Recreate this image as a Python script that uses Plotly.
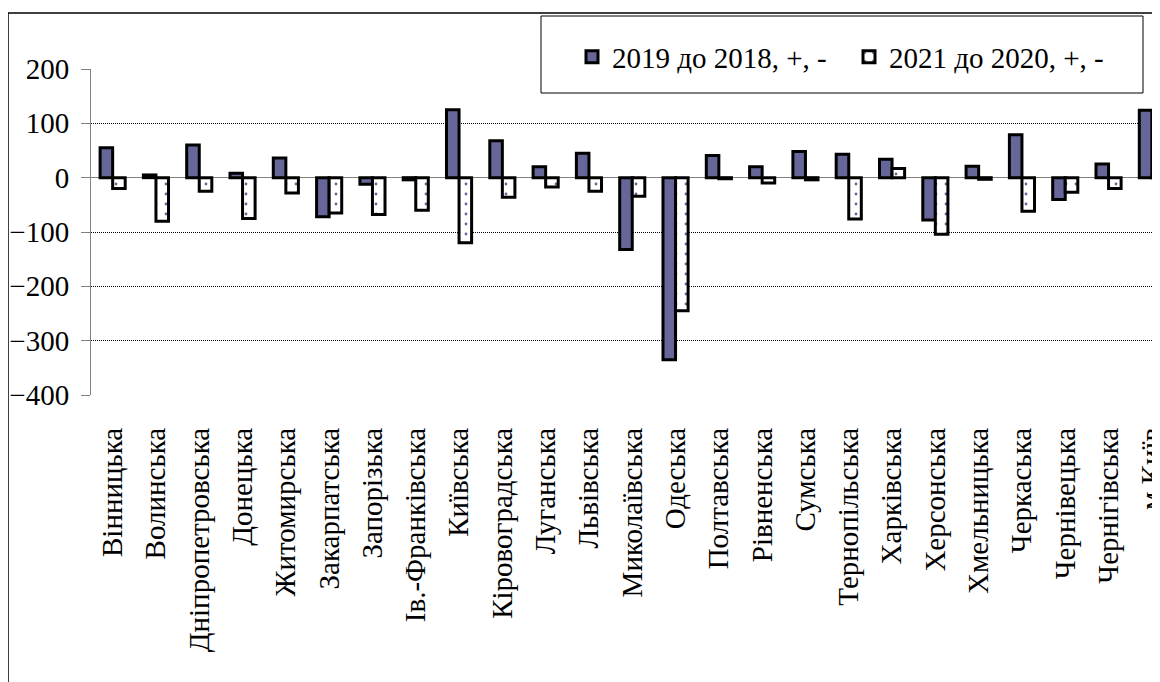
import plotly.graph_objects as go

categories = ["Вінницька", "Волинська", "Дніпропетровська", "Донецька", "Житомирська",
              "Закарпатська", "Запорізька", "Ів.-Франківська", "Київська", "Кіровоградська",
              "Луганська", "Львівська", "Миколаївська", "Одеська", "Полтавська",
              "Рівненська", "Сумська", "Тернопільська", "Харківська", "Херсонська",
              "Хмельницька", "Черкаська", "Чернівецька", "Чернігівська", "м.Київ"]
v2019 = [55, 5, 60, 8, 36, -72, -12, -4, 125, 68, 20, 45, -132, -335, 41,
         20, 48, 43, 34, -78, 21, 79, -40, 25, 124]
v2021 = [-20, -80, -25, -75, -28, -65, -68, -60, -120, -36, -17, -25, -34, -245, -2,
         -10, -4, -76, 17, -104, -3, -62, -27, -20, 4]
series_names = ["2019 до 2018, +, -", "2021 до 2020, +, -"]
y_ticks = [-400, -300, -200, -100, 0, 100, 200]

FONT = "Liberation Serif, Times New Roman, DejaVu Serif, serif"
FS = 29
OFF = 8  # page body margin
W, H = 1160 - OFF, 682 - OFF
ML = 91 - OFF
MT = 69 - OFF
MB = H - (395 - OFF)
MR = 0
PW = W - ML - MR
PH = H - MT - MB
cat_px = 43.3
x_range = [-0.5, -0.5 + PW / cat_px]


def px_x(px):
    return (px - OFF - ML) / PW


def px_y(py):
    return (H - MB - (py - OFF)) / PH


fig = go.Figure()
fig.add_trace(go.Bar(
    x=categories, y=v2019, name=series_names[0],
    marker=dict(color="#666699", line=dict(color="black", width=3)),
))
fig.add_trace(go.Bar(
    x=categories, y=v2021, name=series_names[1],
    marker=dict(color="white", line=dict(color="black", width=3),
                pattern=dict(shape=".", fgcolor="#666699", bgcolor="white",
                             size=10, solidity=0.06)),
))

boundaries = [i + 0.5 for i in range(len(categories) - 1)]

fig.update_layout(
    template="none",
    width=W, height=H,
    margin=dict(l=ML, r=MR, t=MT, b=MB, pad=0, autoexpand=False),
    paper_bgcolor="white", plot_bgcolor="white",
    barmode="group", bargap=0.42, bargroupgap=0,
    font=dict(family=FONT, size=FS, color="black"),
    showlegend=True,
    legend=dict(orientation="h", x=px_x(572), y=px_y(57), xanchor="left", yanchor="middle",
                bgcolor="rgba(0,0,0,0)", borderwidth=0, entrywidth=232,
                font=dict(family=FONT, size=FS, color="black")),
    xaxis=dict(type="category", range=x_range, showgrid=False, zeroline=False,
               showline=False, ticks="", tickangle=-90, ticklabelstandoff=26,
               automargin=False,
               tickfont=dict(family=FONT, size=FS, color="black")),
    xaxis2=dict(overlaying="x", anchor="free", position=400 / 600, side="bottom",
                range=x_range, tickvals=boundaries, ticks="outside", ticklen=7,
                tickcolor="#808080", tickwidth=1, showticklabels=False, automargin=False,
                showgrid=False, zeroline=False, showline=False),
    yaxis=dict(range=[-400, 200], tickvals=y_ticks, showgrid=True, gridcolor="black",
               griddash="1px,1px", gridwidth=1, zeroline=True, zerolinecolor="#808080",
               zerolinewidth=1, showline=True, linecolor="#808080", linewidth=1,
               ticks="outside", ticklen=9, tickcolor="#808080", ticklabelstandoff=6,
               automargin=False,
               tickfont=dict(family=FONT, size=FS, color="black")),
    shapes=[
        dict(type="rect", xref="paper", yref="paper", x0=px_x(8), x1=px_x(1200),
             y0=px_y(760), y1=px_y(13), line=dict(color="black", width=1.5),
             fillcolor="rgba(0,0,0,0)", layer="above"),
        dict(type="rect", xref="paper", yref="paper", x0=px_x(541), x1=px_x(1143),
             y0=px_y(93), y1=px_y(16), line=dict(color="black", width=1),
             fillcolor="white", layer="above"),
    ],
)

fig.write_html("out.html")
